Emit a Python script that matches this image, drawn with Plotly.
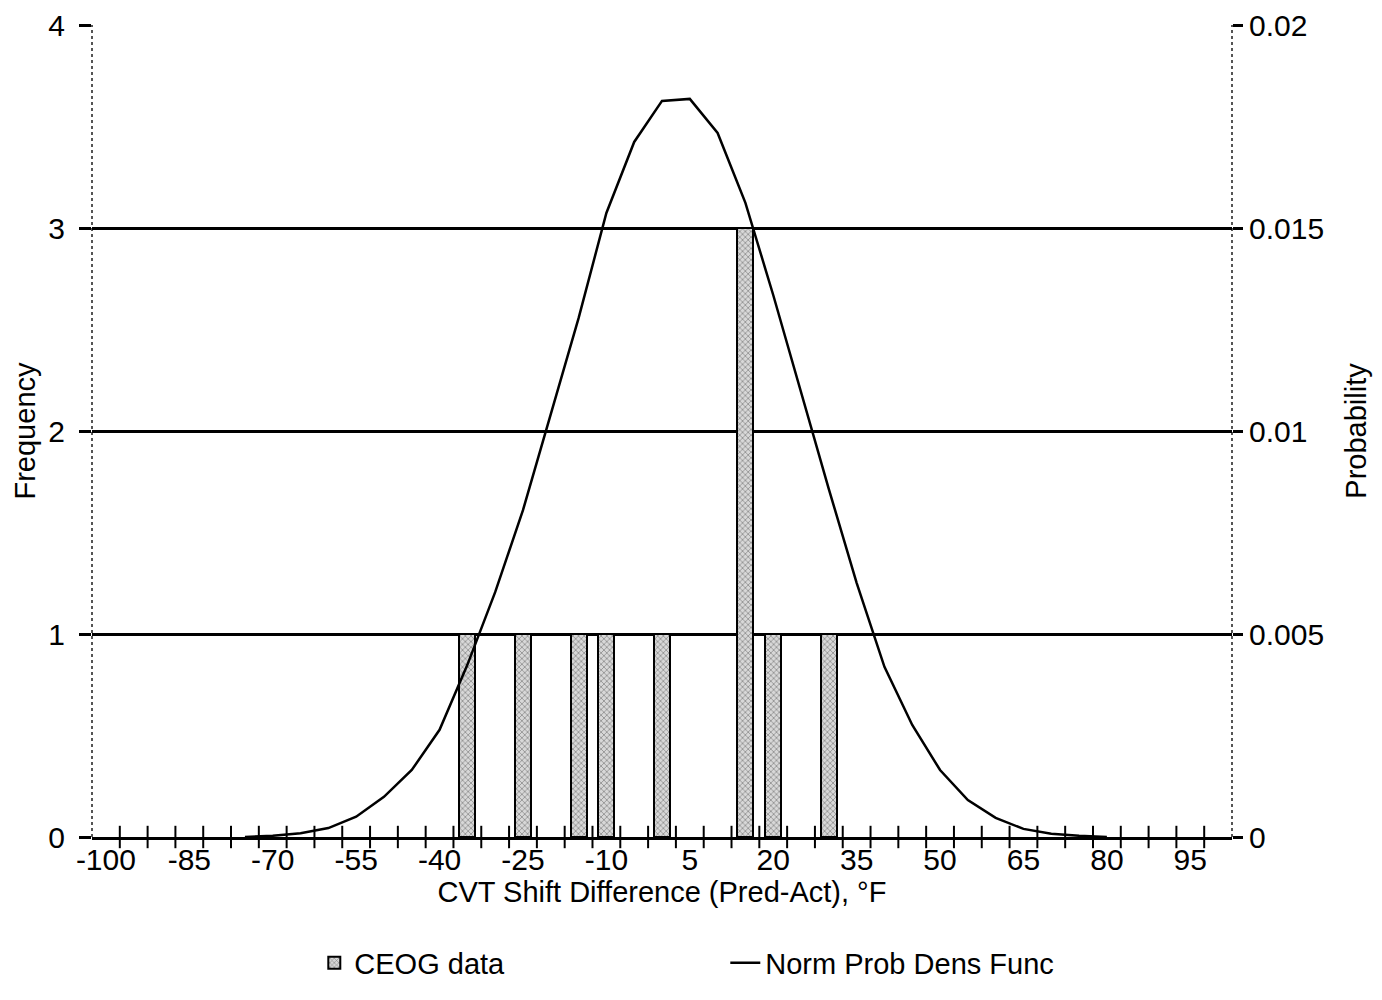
import plotly.graph_objects as go

# ---- data ----
bin_centers = list(range(-100, 101, 5))
tick_labels = [-100, -85, -70, -55, -40, -25, -10, 5, 20, 35, 50, 65, 80, 95]

ceog_x = [-35, -25, -15, -10, 0, 15, 20, 30]
ceog_freq = [1, 1, 1, 1, 1, 3, 1, 1]

pdf_x = [-75, -70, -65, -60, -55, -50, -45, -40, -35, -30, -25, -20, -15, -10, -5,
         0, 5, 10, 15, 20, 25, 30, 35, 40, 45, 50, 55, 60, 65, 70, 75, 80]
pdf_y = [0.0, 0.00003, 0.00009, 0.00022, 0.0005, 0.00099, 0.00165, 0.00264, 0.00424,
         0.00603, 0.00805, 0.0104, 0.01278, 0.01537, 0.01712, 0.01813, 0.01818,
         0.01734, 0.01562, 0.01335, 0.01096, 0.00857, 0.00626, 0.00419, 0.00276,
         0.00165, 0.00091, 0.00047, 0.0002, 0.00008, 0.00003, 0.0]

freq_ticks = [0, 1, 2, 3, 4]
prob_ticks = [0, 0.005, 0.01, 0.015, 0.02]
prob_tick_text = ["0", "0.005", "0.01", "0.015", "0.02"]

FONT = "Liberation Sans, Arial, sans-serif"
BIN_W = 5
bin_edges = [c + BIN_W / 2 for c in bin_centers[:-1]]

fig = go.Figure()

fig.add_trace(go.Bar(
    x=ceog_x, y=ceog_freq, name="CEOG data", width=2.9,
    marker=dict(color="#c8c8c8",
                line=dict(color="black", width=2),
                pattern=dict(shape="x", fgcolor="#3a3a3a", bgcolor="#d8d8d8",
                             size=4, solidity=0.35)),
    yaxis="y",
))

fig.add_trace(go.Scatter(
    x=pdf_x, y=pdf_y, name="Norm Prob Dens Func", mode="lines",
    line=dict(color="black", width=2.5), yaxis="y2",
))

# bin-boundary tick marks crossing the x axis
fig.add_trace(go.Scatter(
    x=bin_edges, y=[0] * len(bin_edges), mode="markers", yaxis="y",
    marker=dict(symbol="line-ns-open", size=16, color="black",
                line=dict(color="black", width=2)),
    showlegend=False, hoverinfo="skip", cliponaxis=False,
))

fig.update_layout(
    width=1382, height=1000,
    margin=dict(l=92, r=150, t=25, b=163, autoexpand=False),
    paper_bgcolor="white", plot_bgcolor="white",
    font=dict(family=FONT, size=29, color="black"),
    bargap=0,
    xaxis=dict(
        range=[-102.5, 102.5], tickvals=tick_labels,
        ticktext=[str(v) for v in tick_labels], ticks="",
        showgrid=False, zeroline=False, showline=True, linecolor="black", linewidth=3,
        tickfont=dict(size=30), ticklabelstandoff=-6,
        title=dict(text="CVT Shift Difference (Pred-Act), °F", font=dict(size=29), standoff=0),
        automargin=False,
    ),
    yaxis=dict(
        range=[0, 4], tickvals=freq_ticks, ticks="outside", ticklen=12, tickwidth=2.5,
        tickcolor="black", showgrid=True, gridcolor="black", gridwidth=2.5,
        zeroline=False, showline=False, tickfont=dict(size=30), ticklabelstandoff=8,
        title=dict(text="Frequency", font=dict(size=29), standoff=4),
        automargin=False,
    ),
    yaxis2=dict(
        range=[0, 0.02], tickvals=prob_ticks, ticktext=prob_tick_text,
        overlaying="y", side="right", ticks="outside", ticklen=10, tickwidth=2.5,
        tickcolor="black", showgrid=False, zeroline=False, showline=False,
        tickfont=dict(size=30), ticklabelstandoff=0,
        title=dict(text="Probability", font=dict(size=29), standoff=22),
        automargin=False,
    ),
    legend=dict(
        orientation="h", x=0.195, xanchor="left", y=-0.155, yanchor="middle",
        font=dict(size=29), entrywidth=366, entrywidthmode="pixels",
        bgcolor="rgba(0,0,0,0)",
    ),
    shapes=[
        dict(type="line", xref="paper", yref="paper", x0=0, x1=0, y0=0, y1=1,
             line=dict(color="#555555", width=2, dash="dot"), layer="below"),
        dict(type="line", xref="paper", yref="paper", x0=1, x1=1, y0=0, y1=1,
             line=dict(color="#555555", width=2, dash="dot"), layer="below"),
    ],
)

fig.write_html("out.html")
